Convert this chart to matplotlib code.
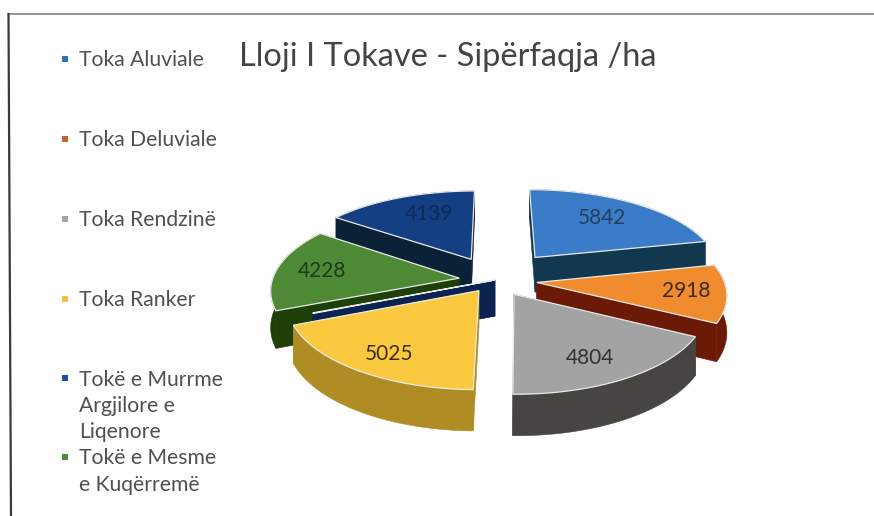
# Lloji i tokave - 3D exploded pie
import numpy as np
import matplotlib
matplotlib.use('Agg')
import matplotlib.pyplot as plt

plt.rcParams['font.family'] = ['Lato', 'DejaVu Sans']

title = 'Lloji I Tokave - Sipërfaqja /ha'
legend_labels = ['Toka Aluviale', 'Toka Deluviale', 'Toka Rendzinë', 'Toka Ranker',
                 'Tokë e Murrme\nArgjilore e\nLiqenore', 'Tokë e Mesme\ne Kuqërremë']
legend_colors = ['#2E75B6', '#C8642A', '#A5A5A5', '#F5BE45', '#1F4E9C', '#4F8A3C']
legend_y = [59, 139, 219, 299, 378, 457]

values = [5842, 2918, 4804, 5025, 30, 4228, 4139]
value_labels = ['5842', '2918', '4804', '5025', '', '4228', '4139']
top_colors = ['#3B7CC9', '#F08C2E', '#A3A3A3', '#FBC940', '#123A7A', '#4E8A36', '#144083']
wall_colors = ['#12384F', '#6B1B05', '#474542', '#B08C24', '#0C2350', '#1E3F07', '#0A2236']
text_colors = ['#24405E', '#3A2A1A', '#333333', '#3A2E10', '#000000', '#1F3A1A', '#0F2A5A']
explode = [66, 42, 36, 28, 0, 36, 53]
label_frac = [0.60, 0.80, 0.66, 0.66, 0.5, 0.72, 0.62]
label_nudge = [(6, -5), (-2, 0), (5, 10), (-13, 12), (0, 0), (-6, 0), (4, -5)]

# view of the pie, in pixels
cx, cy = 495, 280
radius = 187
tilt = 0.455
persp = 0.14
depth = 36


def project(x, y, z=0.0):
    s = 1 + persp * np.asarray(y) / 200
    return cx + np.asarray(x) * s, cy + np.asarray(y) * tilt * s + z * s


def ground(theta, r, dx, dy):
    # theta clockwise from the top, y grows towards the viewer
    return dx + r * np.sin(theta), dy - r * np.cos(theta)


fig = plt.figure(figsize=(8.74, 5.16), dpi=100, facecolor='#FEFEFE')
ax = fig.add_axes([0, 0, 1, 1])
ax.set_xlim(0, 874)
ax.set_ylim(516, 0)
ax.axis('off')

# scanned slide frame
ax.plot([8.5, 874], [14, 14], color='#777777', lw=1.1, zorder=1)
ax.plot([8.5, 11], [14, 516], color='#3A3A3A', lw=1.6, zorder=1)

ax.text(448, 57, title, fontsize=23.4, color='#444444', ha='center', va='center')

for label, col, y0 in zip(legend_labels, legend_colors, legend_y):
    ax.scatter([65], [y0], marker='s', s=22, color=col, linewidths=0)
    for i, part in enumerate(label.split('\n')):
        ax.text(79, y0 + 1.5 + i * 26.5, part, fontsize=15.2, color='#505050', va='center')

edges = np.cumsum([0] + values) / sum(values) * 2 * np.pi
mids = (edges[:-1] + edges[1:]) / 2

# back to front
order = sorted(range(len(values)), key=lambda i: -np.cos(mids[i]))
for rank, i in enumerate(order):
    z0 = 10 + rank * 2
    dx = explode[i] * np.sin(mids[i])
    dy = -explode[i] * np.cos(mids[i])
    th = np.linspace(edges[i], edges[i + 1], 60)
    gx, gy = ground(th, radius, dx, dy)

    # two radial walls and the outer wall, far one first
    pieces = [(np.array([dx, gx[0]]), np.array([dy, gy[0]])),
              (np.array([dx, gx[-1]]), np.array([dy, gy[-1]])),
              (gx, gy)]
    pieces.sort(key=lambda p: p[1].mean())
    for xs, ys in pieces:
        tx, ty = project(xs, ys, 0)
        bx, by = project(xs, ys, depth)
        ax.fill(np.r_[tx, bx[::-1]], np.r_[ty, by[::-1]], color=wall_colors[i],
                lw=0.4, zorder=z0)

    tx, ty = project(np.r_[dx, gx], np.r_[dy, gy], 0)
    ax.fill(tx, ty, facecolor=top_colors[i], edgecolor='#E8E8E8', lw=0.9, zorder=z0 + 1)

    if value_labels[i]:
        lx, ly = ground(mids[i], radius * label_frac[i], dx, dy)
        px, py = project(lx, ly, 0)
        ax.text(px + label_nudge[i][0], py + label_nudge[i][1], value_labels[i], fontsize=15,
                color=text_colors[i], ha='center', va='center', zorder=40)

fig.savefig('out.png', dpi=100, facecolor=fig.get_facecolor())
